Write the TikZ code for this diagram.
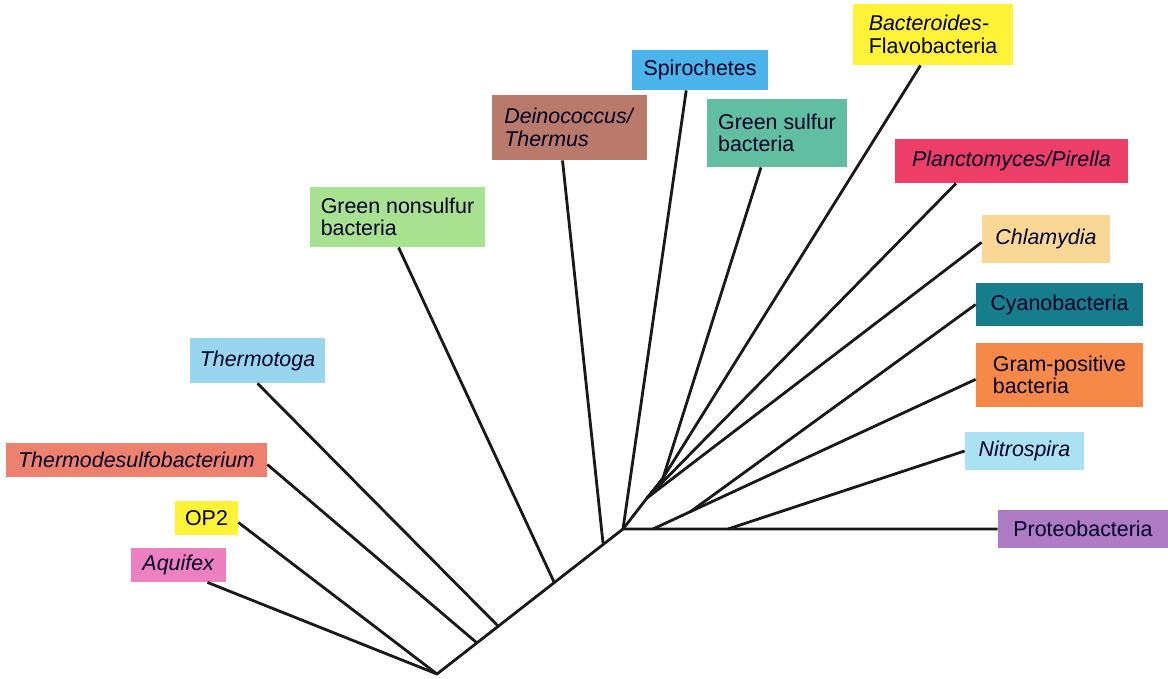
\documentclass[tikz,border=0pt]{standalone}
\usepackage{fontspec}
\setmainfont{Liberation Sans}
\usetikzlibrary{calc}

\definecolor{taxyellow}{RGB}{255,242,55}
\definecolor{taxcrimson}{RGB}{236,62,102}
\definecolor{taxsky}{RGB}{75,180,235}
\definecolor{taxbrown}{RGB}{185,122,108}
\definecolor{taxteal}{RGB}{98,190,160}
\definecolor{taxlime}{RGB}{168,226,145}
\definecolor{taxpaleblue}{RGB}{152,214,240}
\definecolor{taxsalmon}{RGB}{238,128,110}
\definecolor{taxpink}{RGB}{236,128,192}
\definecolor{taxpeach}{RGB}{249,216,150}
\definecolor{taxpetrol}{RGB}{22,125,140}
\definecolor{taxorange}{RGB}{246,136,72}
\definecolor{taxcyan}{RGB}{170,226,244}
\definecolor{taxpurple}{RGB}{175,122,196}

\tikzset{
  taxon/.style={fill=#1, inner sep=0pt, align=left, text=black!85!blue,
    font=\fontsize{10.7}{11.2}\selectfont},
  boxsize/.style 2 args={minimum width=#1*0.5pt, minimum height=#2*0.5pt},
  branch/.style={line width=1.4pt, black!90, line join=round},
}

\begin{document}
\begin{tikzpicture}[x=0.5pt,y=-0.5pt]
  \useasboundingbox (0,0) rectangle (1168,679);

  % taxa
  \node[taxon=taxyellow, boxsize={160}{61}] (bacteroides) at (933,34.5) {\textit{Bacteroides-}\\Flavobacteria};
  \node[taxon=taxcrimson, boxsize={233}{44}] (planc) at (1011.5,161) {\textit{Planctomyces/Pirella}};
  \node[taxon=taxsky, boxsize={136}{40}] (spiro) at (700,70) {Spirochetes};
  \node[taxon=taxbrown, boxsize={155}{65}] (deino) at (569.5,127.5) {\textit{Deinococcus/}\\\textit{Thermus}};
  \node[taxon=taxteal, boxsize={140}{68}] (gsulfur) at (777,133) {Green sulfur\\bacteria};
  \node[taxon=taxlime, boxsize={175}{60}] (gnonsulfur) at (397.5,217) {Green nonsulfur\\bacteria};
  \node[taxon=taxpaleblue, boxsize={135}{45}] (thermotoga) at (257.5,360.5) {\textit{Thermotoga}};
  \node[taxon=taxsalmon, boxsize={261}{34}] (thermodesulfo) at (136.5,460) {\textit{Thermodesulfobacterium}};
  \node[taxon=taxyellow, boxsize={63}{34}] (op2) at (206.5,518) {OP2};
  \node[taxon=taxpink, boxsize={95}{34}] (aquifex) at (178.5,565) {\textit{Aquifex}};
  \node[taxon=taxpeach, boxsize={128}{48}] (chlamydia) at (1046,239) {\textit{Chlamydia}};
  \node[taxon=taxpetrol, boxsize={167}{43}] (cyano) at (1059.5,304.5) {Cyanobacteria};
  \node[taxon=taxorange, boxsize={167}{64}] (gram) at (1059.5,375) {Gram-positive\\bacteria};
  \node[taxon=taxcyan, boxsize={119}{38}] (nitro) at (1024.5,451) {\textit{Nitrospira}};
  \node[taxon=taxpurple, boxsize={170}{38}] (proteo) at (1083,529) {Proteobacteria};

  % branch points
  \coordinate (root) at (437,674);
  \coordinate (hub) at (623,529);
  \coordinate (j1) at (477,643);
  \coordinate (j2) at (498,626);
  \coordinate (j3) at (554,582);
  \coordinate (j4) at (603,543);
  \coordinate (f1) at (647,498);
  \coordinate (f2) at (663,478);
  \coordinate (g1) at (653,529);
  \coordinate (g2) at (690,512);
  \coordinate (n1) at (728,529);

  % tree
  \draw[branch] (aquifex.-31) -- (root) -- (hub) -- (proteo.west);
  \draw[branch] (op2.-8) -- (root);
  \draw[branch] (thermodesulfo.-2) -- (j1);
  \draw[branch] (thermotoga.south) -- (j2);
  \draw[branch] (gnonsulfur.-88) -- (j3);
  \draw[branch] (deino.-102) -- (j4);
  \draw[branch] (spiro.-124) -- (hub);
  \draw[branch] (hub) -- (f1) -- (f2) -- (bacteroides.-112);
  \draw[branch] (f2) -- (gsulfur.-115);
  \draw[branch] (f1) -- (planc.-158);
  \draw[branch] (f1) -- (chlamydia.-177);
  \draw[branch] (g1) -- (gram.-177);
  \draw[branch] (g2) -- (cyano.west);
  \draw[branch] (n1) -- (nitro.west);
\end{tikzpicture}
\end{document}
